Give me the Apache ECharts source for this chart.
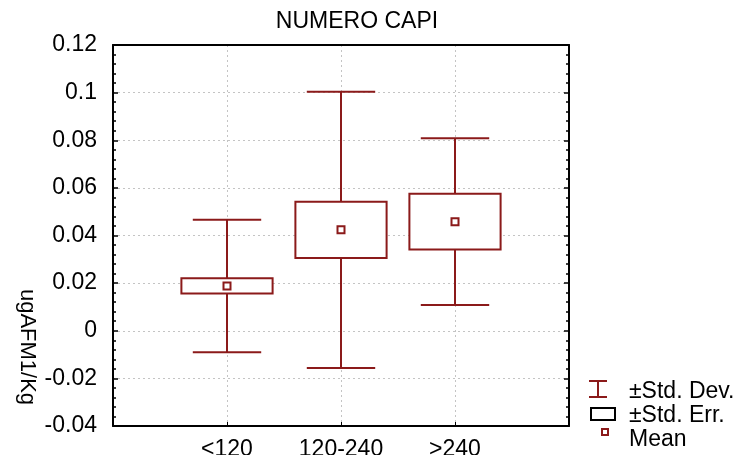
<!DOCTYPE html>
<html>
<head>
<meta charset="utf-8">
<script src="https://cdn.jsdelivr.net/npm/echarts@6/dist/echarts.min.js"></script>
<style>
  html, body { margin: 0; padding: 0; background: #fff; }
  #chart { width: 739px; height: 455px; }
</style>
</head>
<body>
<div id="chart"></div>
<script>
// Groups by number of head (NUMERO CAPI)
const categories = ['<120', '120-240', '>240'];
// Mean of ugAFM1/Kg per group
const means = [0.0188, 0.0424, 0.0458];
// Standard deviation per group (whiskers)
const stdDevs = [0.0278, 0.0580, 0.0350];
// Standard error per group (boxes)
const stdErrs = [0.0032, 0.0118, 0.0117];
// Y axis range, labelled step and small tick step
const yMin = -0.04, yMax = 0.12, yStep = 0.02, yMinorStep = 0.004;

const RED = '#8b1a1a';
const FONT = '"Liberation Sans", Arial, sans-serif';

const seriesData = categories.map((c, i) => [i + 1, means[i], stdDevs[i], stdErrs[i]]);

function renderItem(params, api) {
  const x = api.value(0);
  const m = api.value(1);
  const sd = api.value(2);
  const se = api.value(3);
  const boxW = api.size([0.8, 0])[0];
  const capW = api.size([0.6, 0])[0];
  const pMean = api.coord([x, m]);
  const pSdHi = api.coord([x, m + sd]);
  const pSdLo = api.coord([x, m - sd]);
  const pSeHi = api.coord([x, m + se]);
  const pSeLo = api.coord([x, m - se]);
  const cx = pMean[0];
  const lineStyle = { stroke: RED, lineWidth: 2, fill: null };
  return {
    type: 'group',
    children: [
      { type: 'line', shape: { x1: cx, y1: pSdHi[1], x2: cx, y2: pSeHi[1] }, style: lineStyle },
      { type: 'line', shape: { x1: cx, y1: pSeLo[1], x2: cx, y2: pSdLo[1] }, style: lineStyle },
      { type: 'line', shape: { x1: cx - capW / 2, y1: pSdHi[1], x2: cx + capW / 2, y2: pSdHi[1] }, style: lineStyle },
      { type: 'line', shape: { x1: cx - capW / 2, y1: pSdLo[1], x2: cx + capW / 2, y2: pSdLo[1] }, style: lineStyle },
      { type: 'rect', shape: { x: cx - boxW / 2, y: pSeHi[1], width: boxW, height: pSeLo[1] - pSeHi[1] },
        style: { stroke: RED, lineWidth: 2, fill: '#fff' } },
      { type: 'rect', shape: { x: cx - 3.5, y: pMean[1] - 3.5, width: 7, height: 7 },
        style: { stroke: RED, lineWidth: 2, fill: '#fff' } }
    ]
  };
}

const gridDash = { color: '#c4c4c4', type: [2, 3], width: 1 };
const axisBlack = { show: true, onZero: false, lineStyle: { color: '#000', width: 2 } };

// Thin axis that only carries the small inward ticks
function tickAxis(position) {
  return {
    type: 'value', min: yMin, max: yMax, interval: yMinorStep, position: position,
    axisLine: { show: false, onZero: false },
    axisTick: { show: true, inside: true, length: 3, lineStyle: { color: '#000', width: 1.5 } },
    axisLabel: { show: false },
    splitLine: { show: false }
  };
}

const option = {
  backgroundColor: '#fff',
  animation: false,
  textStyle: { fontFamily: FONT },
  grid: { left: 113, right: 170, top: 45, bottom: 29, outerBoundsMode: 'none', containLabel: false },
  xAxis: [
    {
      type: 'value', min: 0, max: 4, interval: 1, position: 'bottom',
      axisLine: axisBlack,
      axisTick: { show: true, inside: true, length: 4, lineStyle: { color: '#000' } },
      axisLabel: {
        fontSize: 23, color: '#000', fontFamily: FONT, margin: 12,
        formatter: v => (v >= 1 && v <= categories.length) ? categories[v - 1] : ''
      },
      splitLine: { show: true, lineStyle: gridDash }
    },
    {
      type: 'value', min: 0, max: 4, interval: 1, position: 'top',
      axisLine: axisBlack, axisTick: { show: false }, axisLabel: { show: false }, splitLine: { show: false }
    }
  ],
  yAxis: [
    {
      type: 'value', min: yMin, max: yMax, interval: yStep, position: 'left',
      axisLine: axisBlack,
      axisTick: { show: true, inside: true, length: 5, lineStyle: { color: '#000', width: 1.5 } },
      axisLabel: {
        fontSize: 23, color: '#000', fontFamily: FONT, margin: 16,
        formatter: v => String(+v.toFixed(4))
      },
      splitLine: { show: true, lineStyle: gridDash }
    },
    {
      type: 'value', min: yMin, max: yMax, interval: yStep, position: 'right',
      axisLine: axisBlack,
      axisTick: { show: true, inside: true, length: 5, lineStyle: { color: '#000', width: 1.5 } },
      axisLabel: { show: false },
      splitLine: { show: false }
    },
    tickAxis('left'),
    tickAxis('right')
  ],
  series: [{
    type: 'custom',
    renderItem: renderItem,
    xAxisIndex: 0,
    yAxisIndex: 0,
    encode: { x: 0, y: [1] },
    data: seriesData,
    clip: false,
    z: 5
  }],
  graphic: [
    { type: 'text', x: 357, y: 22,
      style: { text: 'NUMERO CAPI', font: '23px ' + FONT, fill: '#000', align: 'center', verticalAlign: 'middle' } },
    { type: 'text', x: 27, y: 347, rotation: -Math.PI / 2,
      style: { text: 'ugAFM1/Kg', font: '22px ' + FONT, fill: '#000', align: 'center', verticalAlign: 'middle' } },
    // legend
    { type: 'group', x: 0, y: 0, children: [
      { type: 'line', shape: { x1: 589, y1: 381, x2: 607, y2: 381 }, style: { stroke: RED, lineWidth: 2 } },
      { type: 'line', shape: { x1: 598, y1: 381, x2: 598, y2: 397 }, style: { stroke: RED, lineWidth: 2 } },
      { type: 'line', shape: { x1: 589, y1: 397, x2: 607, y2: 397 }, style: { stroke: RED, lineWidth: 2 } },
      { type: 'rect', shape: { x: 591, y: 408, width: 24, height: 12 }, style: { stroke: '#000', lineWidth: 2, fill: '#fff' } },
      { type: 'rect', shape: { x: 602, y: 429, width: 6, height: 6 }, style: { stroke: RED, lineWidth: 2, fill: '#fff' } },
      { type: 'text', x: 629, y: 392, style: { text: '±Std. Dev.', font: '23px ' + FONT, fill: '#000', verticalAlign: 'middle' } },
      { type: 'text', x: 629, y: 416, style: { text: '±Std. Err.', font: '23px ' + FONT, fill: '#000', verticalAlign: 'middle' } },
      { type: 'text', x: 629, y: 440, style: { text: 'Mean', font: '23px ' + FONT, fill: '#000', verticalAlign: 'middle' } }
    ] }
  ]
};

const chart = echarts.init(document.getElementById('chart'), null, { renderer: 'canvas' });
chart.setOption(option);
</script>
</body>
</html>
